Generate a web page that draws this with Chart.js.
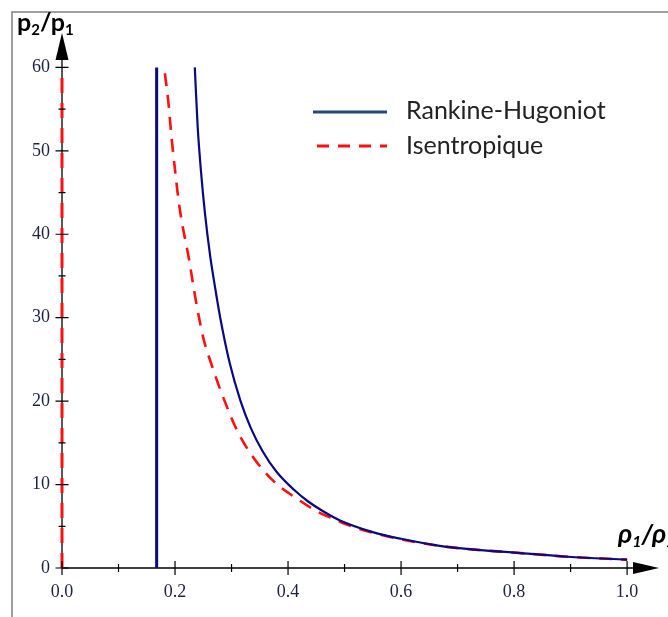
<!DOCTYPE html>
<html>
<head>
<meta charset="utf-8">
<script src="https://cdn.jsdelivr.net/npm/chart.js@4.4.1/dist/chart.umd.min.js"></script>
<style>
  html, body { margin: 0; padding: 0; background: #fff; }
  #wrap { width: 668px; height: 617px; }
</style>
</head>
<body>
<div id="wrap"><canvas id="myChart" width="668" height="617"></canvas></div>
<script>
// values (x = rho1/rho2, y = p2/p1)
const rhX = [0.235, 0.240, 0.246, 0.253, 0.262, 0.270, 0.280, 0.297, 0.316, 0.334, 0.355, 0.380, 0.410, 0.435, 0.462, 0.492, 0.550, 0.600, 0.674, 0.740, 0.800, 0.895, 1.0];
const rhY = [60, 53, 47.5, 42.5, 37.5, 34, 30, 24.5, 20, 16.8, 14, 11.5, 9.4, 8.0, 6.8, 5.7, 4.3, 3.5, 2.6, 2.15, 1.85, 1.35, 1.0];

const isX = [0.182, 0.188, 0.194, 0.200, 0.206, 0.212, 0.224, 0.237, 0.250, 0.265, 0.280, 0.309, 0.338, 0.373, 0.416, 0.451, 0.480, 0.504, 0.551, 0.610, 0.674, 0.740, 0.800, 0.895, 1.0];
const isY = [59.3, 56, 51.5, 47.7, 44.2, 41.5, 37.3, 32, 27.6, 24.3, 21.4, 16.6, 13.3, 10.5, 8.3, 6.8, 5.9, 5.2, 4.2, 3.3, 2.6, 2.15, 1.85, 1.35, 1.0];

// asymptotes
const rhLimitX = [0.1675, 0.1675];
const rhLimitY = [0, 60];
const isLimitX = [0, 0];
const isLimitY = [0, 60];

// tick labels
const xTicks = [0.0, 0.2, 0.4, 0.6, 0.8, 1.0];
const xMinor = [0.1, 0.3, 0.5, 0.7, 0.9];
const yTicks = [0, 10, 20, 30, 40, 50, 60];
const yMinor = [5, 15, 25, 35, 45, 55];

const blue = "#0a0a80";
const red = "#ff1010";

function pts(xs, ys) {
  return xs.map((x, i) => ({ x: x, y: ys[i] }));
}

// frame, axes, arrows, ticks, titles and legend
const decorations = {
  id: "decorations",
  beforeDraw(chart) {
    const c = chart.ctx;
    c.save();
    c.strokeStyle = "#808080";
    c.lineWidth = 1.5;
    c.beginPath();
    c.moveTo(12, 617);
    c.lineTo(12, 12);
    c.lineTo(668, 12);
    c.stroke();
    c.restore();
  },
  beforeDatasetsDraw(chart) {
    const c = chart.ctx;
    const xs = chart.scales.x, ys = chart.scales.y;
    const x0 = xs.getPixelForValue(0), y0 = ys.getPixelForValue(0);
    c.save();
    c.strokeStyle = "#000";
    c.lineWidth = 1.3;
    c.beginPath();
    c.moveTo(x0, y0);
    c.lineTo(645, y0);
    c.moveTo(x0, y0);
    c.lineTo(x0, 50);
    c.stroke();
    c.restore();
  },
  afterDatasetsDraw(chart) {
    const c = chart.ctx;
    const xs = chart.scales.x, ys = chart.scales.y;
    const x0 = xs.getPixelForValue(0), y0 = ys.getPixelForValue(0);
    c.save();
    c.strokeStyle = "#000";
    c.lineWidth = 1.2;
    c.beginPath();
    xTicks.forEach(v => { const p = xs.getPixelForValue(v); c.moveTo(p, y0 - 7); c.lineTo(p, y0 + 7); });
    xMinor.forEach(v => { const p = xs.getPixelForValue(v); c.moveTo(p, y0 - 4); c.lineTo(p, y0 + 4); });
    yTicks.forEach(v => { const p = ys.getPixelForValue(v); c.moveTo(x0 - 6.5, p); c.lineTo(x0 + 6.5, p); });
    yMinor.forEach(v => { const p = ys.getPixelForValue(v); c.moveTo(x0 - 3.5, p); c.lineTo(x0 + 3.5, p); });
    c.stroke();

    // arrow heads
    c.fillStyle = "#000";
    c.beginPath();
    c.moveTo(x0, 33);
    c.lineTo(x0 - 6.5, 60);
    c.lineTo(x0 + 6.5, 60);
    c.closePath();
    c.fill();
    c.beginPath();
    c.moveTo(659, y0);
    c.lineTo(633, y0 - 6);
    c.lineTo(633, y0 + 6);
    c.closePath();
    c.fill();

    // axis titles
    c.fillStyle = "#000";
    c.textBaseline = "alphabetic";
    let x = 17;
    c.font = "bold 25px Lato";
    c.fillText("p", x, 31); x += c.measureText("p").width;
    c.font = "bold 15px Lato";
    c.fillText("2", x, 35); x += c.measureText("2").width;
    c.font = "bold 25px Lato";
    c.fillText("/p", x, 31); x += c.measureText("/p").width;
    c.font = "bold 15px Lato";
    c.fillText("1", x, 35);

    x = 618;
    c.font = "italic bold 27px Lato";
    c.fillText("ρ", x, 543); x += c.measureText("ρ").width;
    c.font = "italic bold 16px Lato";
    c.fillText("1", x, 547); x += c.measureText("1").width;
    c.font = "italic bold 27px Lato";
    c.fillText("/ρ", x, 543); x += c.measureText("/ρ").width;
    c.font = "italic bold 16px Lato";
    c.fillText("2", x, 547);

    // legend
    c.lineWidth = 3;
    c.strokeStyle = "#254a80";
    c.beginPath();
    c.moveTo(313, 112);
    c.lineTo(387, 112);
    c.stroke();
    c.strokeStyle = red;
    c.setLineDash([12, 9]);
    c.beginPath();
    c.moveTo(317, 146);
    c.lineTo(387, 146);
    c.stroke();
    c.setLineDash([]);
    c.fillStyle = "#222";
    c.font = "25px Lato";
    c.fillText(chart.data.datasets[0].label, 406, 119);
    c.fillText(chart.data.datasets[2].label, 406, 154);
    c.restore();
  }
};

const ctx = document.getElementById("myChart");

new Chart(ctx, {
  type: "scatter",
  data: {
    datasets: [
      {
        label: "Rankine-Hugoniot",
        data: pts(rhX, rhY),
        showLine: true,
        borderColor: blue,
        borderWidth: 2.2,
        pointRadius: 0,
        cubicInterpolationMode: "monotone",
        clip: false,
      },
      {
        label: "Rankine-Hugoniot",
        data: pts(rhLimitX, rhLimitY),
        showLine: true,
        borderColor: blue,
        borderWidth: 3,
        pointRadius: 0,
        clip: false,
      },
      {
        label: "Isentropique",
        data: pts(isX, isY),
        showLine: true,
        borderColor: red,
        borderWidth: 2.6,
        borderDash: [13, 9],
        pointRadius: 0,
        cubicInterpolationMode: "monotone",
        clip: false,
      },
      {
        label: "Isentropique",
        data: pts(isLimitX, isLimitY),
        showLine: true,
        borderColor: red,
        borderWidth: 3,
        borderDash: [15, 10],
        pointRadius: 0,
        clip: false,
      },
    ],
  },
  options: {
    responsive: false,
    animation: false,
    layout: { padding: { top: 34, right: 7, left: 0, bottom: 0 } },
    plugins: {
      legend: { display: false },
      tooltip: { enabled: false },
    },
    scales: {
      x: {
        type: "linear",
        min: 0,
        max: 1.06,
        grid: { display: false, drawTicks: false },
        border: { display: false },
        afterBuildTicks: (scale) => { scale.ticks = xTicks.map(v => ({ value: v })); },
        afterFit: (scale) => { scale.height = 49; },
        ticks: {
          padding: 13,
          color: "#1c2340",
          font: { family: "Liberation Serif", size: 18 },
          callback: (value) => Number(value).toFixed(1),
        },
      },
      y: {
        type: "linear",
        min: 0,
        max: 64,
        grid: { display: false, drawTicks: false },
        border: { display: false },
        afterBuildTicks: (scale) => { scale.ticks = yTicks.map(v => ({ value: v })); },
        afterFit: (scale) => { scale.width = 62; },
        ticks: {
          padding: 12,
          color: "#1c2340",
          font: { family: "Liberation Serif", size: 18 },
          callback: (value) => `${value}`,
        },
      },
    },
  },
  plugins: [decorations],
});
</script>
</body>
</html>
